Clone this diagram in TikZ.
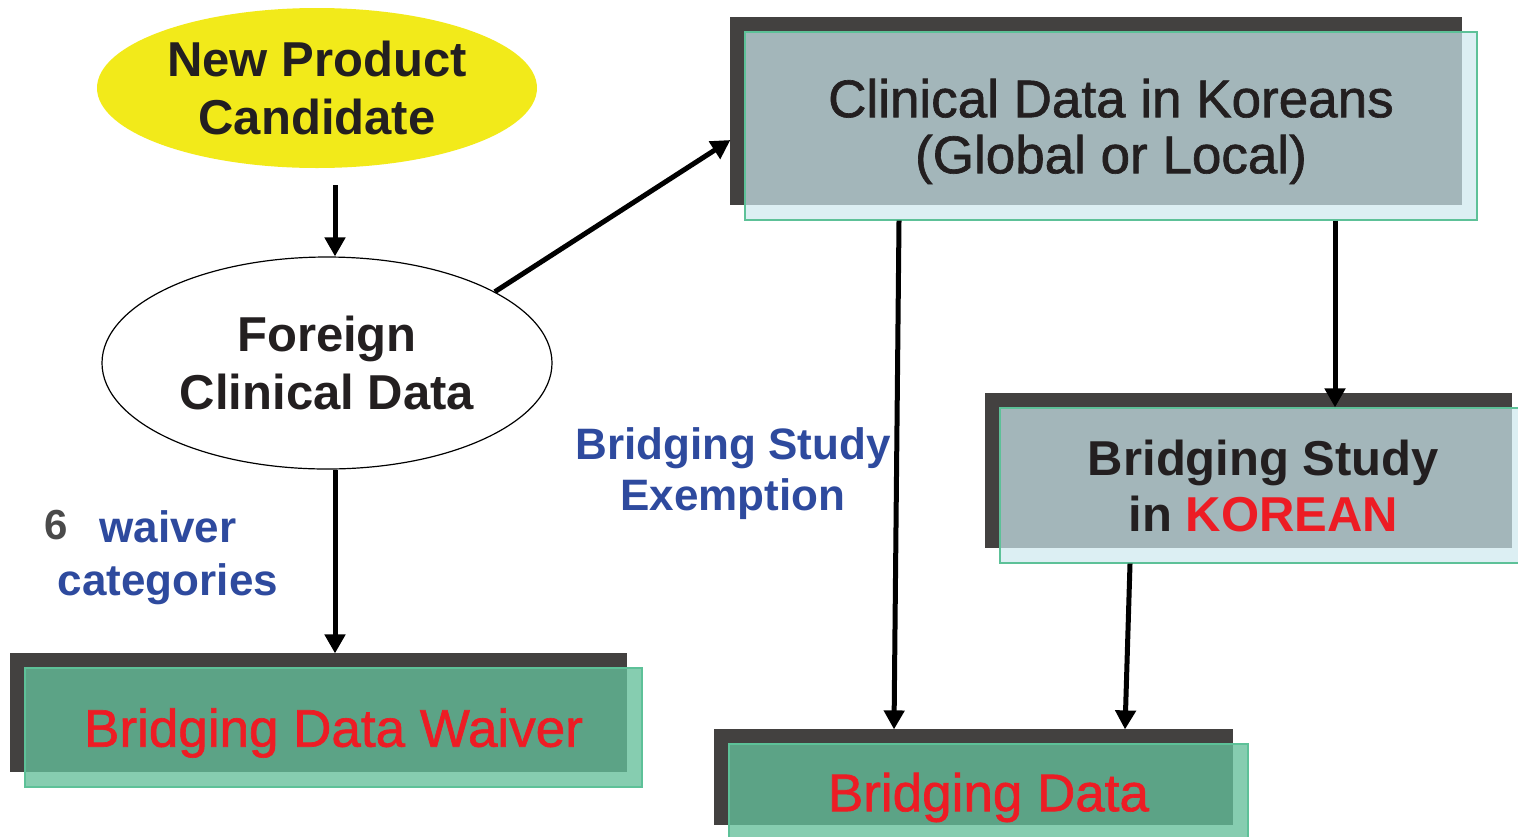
\documentclass[tikz,border=0pt]{standalone}
\usepackage{fontspec}
\setmainfont{Liberation Sans}
\newfontfamily\mediumsans{Liberation Sans}[FakeBold=1.2]
\usetikzlibrary{arrows.meta,shapes.geometric,shadows}
\definecolor{ovalyellow}{RGB}{242,234,26}
\definecolor{shadowdark}{RGB}{67,65,64}
\definecolor{paleblue}{RGB}{205,232,238}
\definecolor{boxgreen}{RGB}{100,191,154}
\definecolor{edgegreen}{RGB}{93,193,152}
\definecolor{alertred}{RGB}{237,28,36}
\definecolor{labelblue}{RGB}{46,74,158}
\definecolor{inkdark}{RGB}{35,31,32}
\definecolor{numgrey}{RGB}{74,74,74}
\begin{document}
\begin{tikzpicture}[x=.5pt, y=-.5pt,
  arr/.style={line width=2.5pt, -{Triangle[length=9.5pt, width=10pt]}},
  oval/.style={ellipse, inner sep=0pt, align=center, text=inkdark,
    font=\fontsize{24.5}{29}\selectfont\bfseries},
  card/.style={rectangle, inner sep=0pt, align=center, text depth=0pt,
    draw=edgegreen, line width=.6pt, text opacity=1,
    general shadow={fill=shadowdark, fill opacity=1, draw=none,
      shadow xshift=-7.5pt, shadow yshift=7.5pt}},
  greycard/.style={card, fill=paleblue, fill opacity=.7, text=inkdark},
  greencard/.style={card, fill=boxgreen, fill opacity=.78, text=alertred,
    font=\fontsize{26.5}{30}\selectfont\mediumsans},
  bluelabel/.style={align=center, text=labelblue, font=\fontsize{22}{25.5}\selectfont\bfseries}]
\clip (0,0) rectangle (1518,836);
\node [oval, fill=ovalyellow, minimum width=220pt, minimum height=80pt] (npc) at (317,88) {New Product\\Candidate};
\node [oval, draw, line width=.6pt, fill=white, minimum width=225pt, minimum height=106pt] (fcd) at (327,363) {Foreign\\Clinical Data};
\node [greycard, minimum width=366pt, minimum height=94pt, font=\fontsize{26.5}{28}\selectfont\mediumsans] (clin) at (1111,126) {Clinical Data in Koreans\\(Global or Local)};
\node [greycard, minimum width=263.5pt, minimum height=77.5pt, font=\fontsize{24.5}{28}\selectfont\bfseries] (bsk) at (1263.5,485.5) {Bridging Study\\in \textcolor{alertred}{KOREAN}};
\node [greencard, minimum width=308.5pt, minimum height=59.5pt] (bdw) at (333.5,727.5) {Bridging Data Waiver};
\node [greencard, minimum width=259.5pt, minimum height=48pt] (bd) at (988.5,792) {Bridging Data};
% labels
\node [bluelabel] (exempt) at (733,474) {Bridging Study\\Exemption};
\node [bluelabel, font=\fontsize{22}{26.5}\selectfont\bfseries] (waive) at (168,558) {waiver\\categories};
\node [text=numgrey, font=\fontsize{21}{25}\selectfont\bfseries] (six) at (56,525) {6};
% arrows
\draw [arr] ([shift={(18,17)}]npc.south) -- ([shift={(8,0)}]fcd.north);
\draw [arr] (fcd.23) -- ([shift={(-14,14)}]clin.west);
\draw [arr] ([shift={(8,0)}]fcd.south) -- ([shift={(1.5,-14)}]bdw.north);
\draw [arr] ([shift={(-212,0)}]clin.south) -- ([shift={(-94.5,-14)}]bd.north);
\draw [arr] ([shift={(224,0)}]clin.south) -- ([shift={(71.5,0)}]bsk.north);
\draw [arr] ([shift={(-133.5,0)}]bsk.south) -- ([shift={(136.5,-14)}]bd.north);
\end{tikzpicture}
\end{document}
